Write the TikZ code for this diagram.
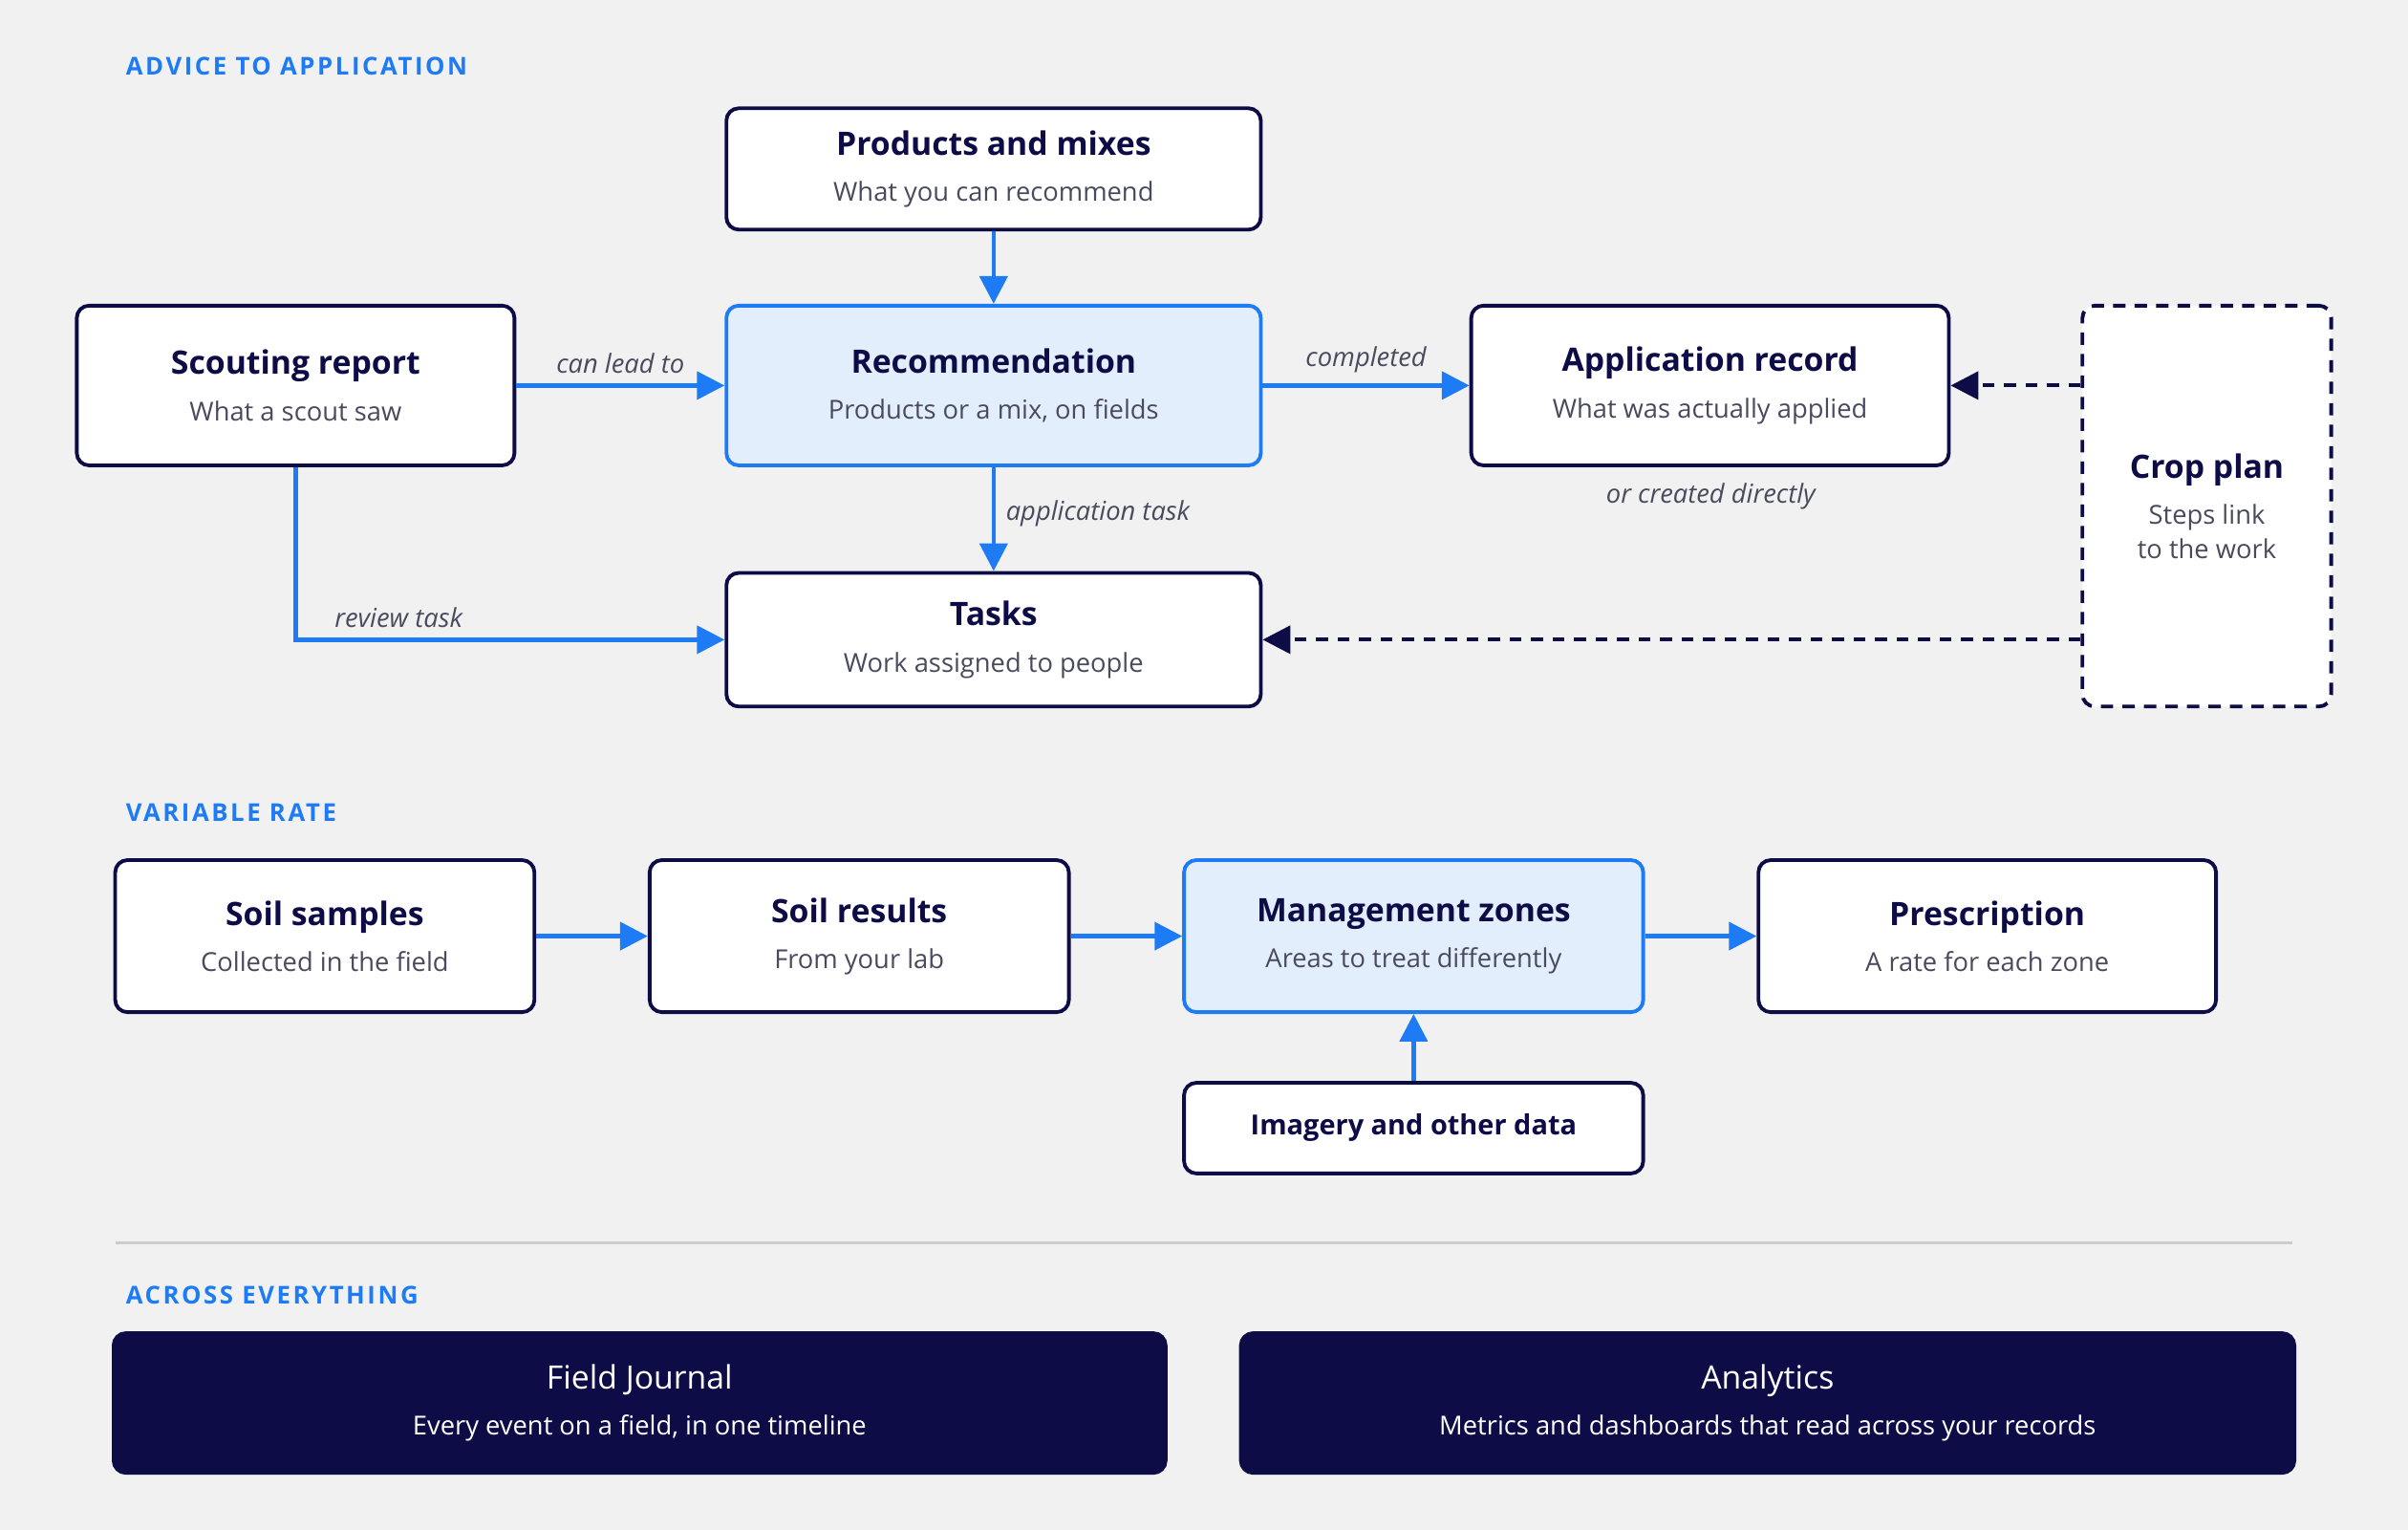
\documentclass[tikz,border=0pt]{standalone}
\usepackage{fontspec}
\setmainfont{Open Sans}
\usetikzlibrary{arrows.meta}
\definecolor{bg}{HTML}{F1F1F1}
\definecolor{navy}{HTML}{0E0C46}
\definecolor{blu}{HTML}{1E7BF6}
\definecolor{lb}{HTML}{E3EEFC}
\definecolor{sub}{HTML}{4A4A5E}
\newcommand{\ttl}{\fontsize{10.5}{13}\selectfont\bfseries\color{navy}}
\newcommand{\sbt}{\fontsize{8.5}{11}\selectfont\color{sub}}
\begin{document}
\begin{tikzpicture}[x=0.5pt,y=-0.5pt,
 bx/.style 2 args={draw=navy,line width=1.2pt,rounded corners=4pt,fill=white,align=center,minimum width=#1*0.5pt,minimum height=#2*0.5pt,inner sep=0pt},
 hl/.style={draw=blu,fill=lb},
 dk/.style={fill=navy,draw=navy},
 ar/.style={draw=blu,line width=1.4pt,-{Triangle[length=9pt,width=9pt]}},
 da/.style={draw=navy,line width=1.3pt,dash pattern=on 4pt off 3pt,-{Triangle[length=9pt,width=9pt]}},
 lab/.style={font=\fontsize{8.5}{10}\selectfont\itshape,text=sub},
 hdr/.style={font=\fontsize{8}{10}\selectfont\bfseries\addfontfeatures{LetterSpace=10},text=blu,anchor=west}]
\fill[bg] (0,0) rectangle (1568,996);
\useasboundingbox (0,0) rectangle (1568,996);
\node[hdr] (h1) at (75,43) {ADVICE TO APPLICATION};
\node[hdr] (h2) at (75,529) {VARIABLE RATE};
\node[hdr] (h3) at (75,843) {ACROSS EVERYTHING};
\node[bx={348}{79}] (prod) at (647,110) {{\ttl Products and mixes}\\[3pt]{\sbt What you can recommend}};
\node[bx={285}{104}] (scout) at (192.5,251) {{\ttl Scouting report}\\[3pt]{\sbt What a scout saw}};
\node[bx={348}{104},hl] (rec) at (647,251) {{\ttl Recommendation}\\[3pt]{\sbt Products or a mix, on fields}};
\node[bx={311}{104}] (app) at (1113.5,251) {{\ttl Application record}\\[3pt]{\sbt What was actually applied}};
\node[bx={162}{261},dash pattern=on 4pt off 3pt] (crop) at (1437,329.5) {{\ttl Crop plan}\\[3pt]{\sbt Steps link}\\[-1pt]{\sbt to the work}};
\node[bx={348}{87}] (tasks) at (647,416.5) {{\ttl Tasks}\\[3pt]{\sbt Work assigned to people}};
\node[lab] (ocd) at (1114,323) {or created directly};
\draw[ar] (prod) -- (rec);
\draw[ar] (scout.east) -- node[lab,above,pos=0.5] {can lead to} (rec.west);
\draw[ar] (rec.east) -- node[lab,above] {completed} (app.west);
\draw[ar] (rec.south) -- node[lab,right,pos=0.45] {application task} (tasks.north);
\draw[ar] (scout.south) -- (scout.south |- tasks.west) -- node[lab,above,pos=0.24] {review task} (tasks.west);
\draw[da] (crop.west |- app.east) -- (app.east);
\draw[da] (crop.west |- tasks.east) -- (tasks.east);
\node[bx={273}{99}] (soil) at (211.5,609.5) {{\ttl Soil samples}\\[3pt]{\sbt Collected in the field}};
\node[bx={273}{99}] (res) at (559.5,609.5) {{\ttl Soil results}\\[3pt]{\sbt From your lab}};
\node[bx={299}{99},hl] (mz) at (920.5,609.5) {{\ttl Management zones}\\[3pt]{\sbt Areas to treat differently}};
\node[bx={298}{99}] (pre) at (1294,609.5) {{\ttl Prescription}\\[3pt]{\sbt A rate for each zone}};
\node[bx={299}{59}] (img) at (920.5,734.5) {\fontsize{9}{11}\selectfont\bfseries\color{navy}Imagery and other data};
\draw[ar] (soil) -- (res);
\draw[ar] (res) -- (mz);
\draw[ar] (mz) -- (pre);
\draw[ar] (img) -- (mz);
\draw[black!20,line width=1pt] (75,809) -- (1493,809);
\node[bx={685}{91},dk] (fj) at (416.5,913.5) {{\fontsize{10.5}{13}\selectfont\color{white}Field Journal}\\[3pt]{\fontsize{8.5}{11}\selectfont\color{white}Every event on a field, in one timeline}};
\node[bx={686}{91},dk] (an) at (1151,913.5) {{\fontsize{10.5}{13}\selectfont\color{white}Analytics}\\[3pt]{\fontsize{8.5}{11}\selectfont\color{white}Metrics and dashboards that read across your records}};
\end{tikzpicture}
\end{document}
